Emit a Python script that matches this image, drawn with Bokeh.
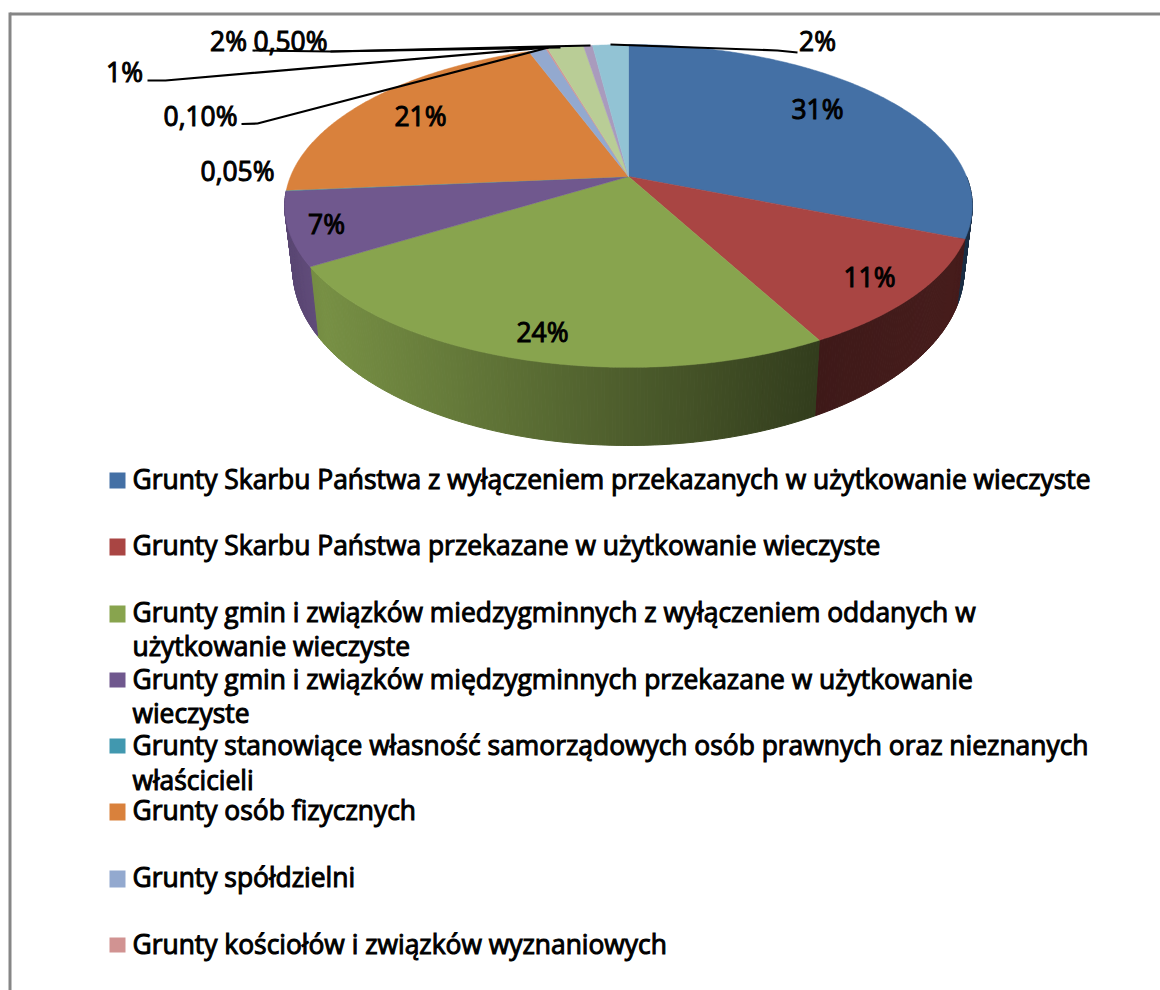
import numpy as np
from bokeh.plotting import figure
from bokeh.models import Range1d, ColumnDataSource
from bokeh.core.properties import value
from bokeh.embed import file_html
from bokeh.resources import INLINE

# ---- data ----
series_names = [
    "Grunty Skarbu Państwa z wyłączeniem przekazanych w użytkowanie wieczyste",
    "Grunty Skarbu Państwa przekazane w użytkowanie wieczyste",
    "Grunty gmin i związków miedzygminnych z wyłączeniem oddanych w użytkowanie wieczyste",
    "Grunty gmin i związków międzygminnych przekazane w użytkowanie wieczyste",
    "Grunty stanowiące własność samorządowych osób prawnych oraz nieznanych właścicieli",
    "Grunty osób fizycznych",
    "Grunty spółdzielni",
    "Grunty kościołów i związków wyznaniowych",
]
values = [31, 11, 24, 7.3, 0.05, 20.7, 1, 0.10, 2, 0.50, 2]
value_labels = ["31%", "11%", "24%", "7%", "0,05%", "21%", "1%", "0,10%", "2%", "0,50%", "2%"]
colors = ["#4470A5", "#A94543", "#88A44E", "#70588E", "#4198AF", "#D9813C",
          "#93A9CF", "#D19392", "#B9CD96", "#A99BBD", "#92C3D4"]

# ---- layout ----
W, H = 1160, 990
CX, CY, A, B, K = 628, 176, 338, 156, 0.1827   # top face projection
CY2, A2, B2 = 237, 330, 170                    # bottom rim projection

legend_lines = [
    (132, 478, "Grunty Skarbu Państwa z wyłączeniem przekazanych w użytkowanie wieczyste"),
    (132, 544, "Grunty Skarbu Państwa przekazane w użytkowanie wieczyste"),
    (132, 611, "Grunty gmin i związków miedzygminnych z wyłączeniem oddanych w"),
    (132, 645, "użytkowanie wieczyste"),
    (132, 678, "Grunty gmin i związków międzygminnych przekazane w użytkowanie"),
    (132, 712, "wieczyste"),
    (132, 744, "Grunty stanowiące własność samorządowych osób prawnych oraz nieznanych"),
    (132, 779, "właściciele"[:-1] + "i"),
    (132, 809, "Grunty osób fizycznych"),
    (132, 876, "Grunty spółdzielni"),
    (132, 943, "Grunty kościołów i związków wyznaniowych"),
]
legend_swatches = [(472, 488), (538, 555), (605, 622), (672, 687), (738, 753),
                   (803, 820), (870, 887), (937, 952)]
label_positions = {0: (817, 108), 1: (869, 276), 2: (542, 331), 3: (326, 223), 4: (237, 170),
                   5: (420, 115), 6: (124, 71), 7: (200, 115), 8: (228, 40), 9: (290, 40), 10: (817, 40)}
leaders = [
    ([797, 777, 610], [52, 50, 44]),
    ([252, 330, 590], [50, 51, 45]),
    ([330, 560], [51, 47]),
    ([147, 165, 548], [80, 80, 47]),
    ([241, 257, 548], [123.5, 123, 47]),
]


def top_pt(t):
    u, v = np.cos(t), np.sin(t)
    d = 1 + K * v
    return CX + A * u / d, CY - B * v / d


def bot_pt(t):
    u, v = np.cos(t), np.sin(t)
    d = 1 + K * v
    return CX + A2 * u / d, CY2 - B2 * v / d


def shade(hex_color, x):
    f = np.interp(x, [290, 320, 820, 965], [0.82, 0.88, 0.37, 0.42])
    r, g, b = (int(hex_color[i:i + 2], 16) for i in (1, 3, 5))
    return "#%02x%02x%02x" % (int(r * f), int(g * f), int(b * f))


p = figure(width=W, height=H, output_backend="svg", toolbar_location=None,
           x_range=Range1d(0, W), y_range=Range1d(H, 0),
           min_border=0, outline_line_color=None, background_fill_color="white")
p.axis.visible = False
p.grid.visible = False

# border
p.segment([9.5], [13.5], [W], [13.5], line_color="#868686", line_width=3)
p.segment([9.5], [12], [9.5], [H], line_color="#868686", line_width=3)

# slice angles
frac = np.array(values) / np.sum(values)
edges = np.pi / 2 - 2 * np.pi * np.concatenate([[0], np.cumsum(frac)])

# side wall, strip by strip, each shaded along x
xs, ys, cols = [], [], []
for i, c in enumerate(colors):
    a0, a1 = edges[i], edges[i + 1]
    if (a0 + a1) / 2 < -np.pi or frac[i] < 0.001:
        continue
    lo, hi = a1, min(a0, 0.0)
    if lo >= hi:
        continue
    n = max(2, int((hi - lo) / np.radians(0.5)))
    g = np.linspace(hi, lo, n + 1)
    for t0, t1 in zip(g[:-1], g[1:]):
        x0, y0 = top_pt(t0); x1, y1 = top_pt(t1)
        x2, y2 = bot_pt(t1); x3, y3 = bot_pt(t0)
        xs.append([x0, x1, x2, x3]); ys.append([y0, y1, y2, y3])
        cols.append(shade(c, (x0 + x1) / 2))
p.patches(xs, ys, fill_color=cols, line_color=cols, line_width=1)

# top face
xs, ys = [], []
for i in range(len(values)):
    g = np.linspace(edges[i], edges[i + 1], max(3, int(abs(edges[i + 1] - edges[i]) / np.radians(0.5))))
    px, py = top_pt(g)
    xs.append(np.concatenate([[CX], px]))
    ys.append(np.concatenate([[CY], py]))
p.patches(xs, ys, fill_color=colors, line_color=colors, line_width=0.5)

# leader lines
for lx, ly in leaders:
    p.line(lx, ly, line_color="black", line_width=2.2)

# value labels
src = ColumnDataSource(dict(
    x=[label_positions[i][0] for i in range(len(values))],
    y=[label_positions[i][1] for i in range(len(values))],
    t=value_labels))
p.text("x", "y", text="t", source=src, text_font=value("Open Sans"), text_font_size="26.4px",
       text_align="center", text_baseline="middle", text_color="black",
       text_outline_color="black")

# legend
n_leg = len(legend_swatches)
p.quad(left=[109] * n_leg, right=[125] * n_leg,
       top=[s[0] for s in legend_swatches], bottom=[s[1] for s in legend_swatches],
       fill_color=colors[:n_leg], line_color=None)
src2 = ColumnDataSource(dict(x=[l[0] for l in legend_lines], y=[l[1] for l in legend_lines],
                             t=[l[2] for l in legend_lines]))
p.text("x", "y", text="t", source=src2, text_font=value("Open Sans"), text_font_size="26.4px",
       text_align="left", text_baseline="middle", text_color="black",
       text_outline_color="black")

open("out.html", "w").write(file_html(p, INLINE))
